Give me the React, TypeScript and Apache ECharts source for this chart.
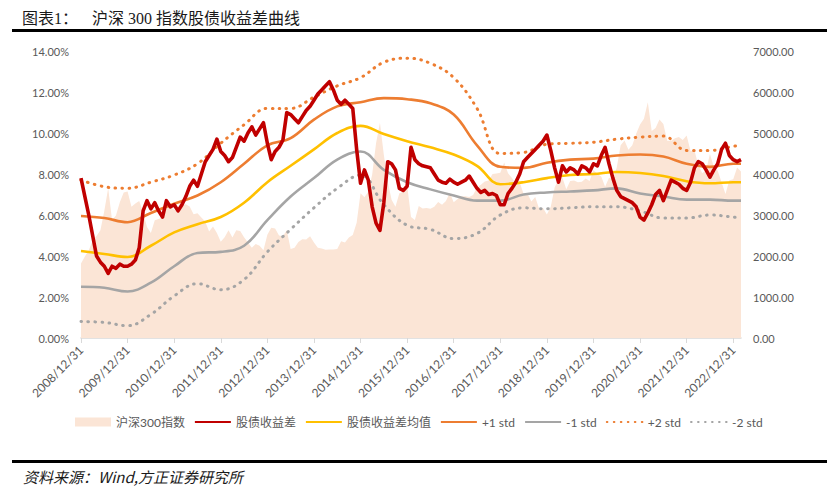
import { useEffect, useRef } from "react";
import * as echarts from "echarts";

// x = months since 2008/12
const yearEndMonths = [0, 12, 24, 36, 48, 60, 72, 84, 96, 108, 120, 132, 144, 156, 168];
const yearEndLabels = [
  "2008/12/31", "2009/12/31", "2010/12/31", "2011/12/31", "2012/12/31",
  "2013/12/31", "2014/12/31", "2015/12/31", "2016/12/31", "2017/12/31",
  "2018/12/31", "2019/12/31", "2020/12/31", "2021/12/31", "2022/12/31",
];
const leftTicks = [0, 2, 4, 6, 8, 10, 12, 14];

// 沪深300指数, monthly from 2008/12 to 2023/02
const indexValues = [
  1817,
  1990, 2140, 2370, 2490, 2630, 3100, 3650, 2880, 2990, 3310, 3550, 3575,
  3200, 3280, 3340, 3070, 2710, 2560, 2870, 2900, 2940, 3400, 3200, 3130,
  3080, 3240, 3260, 3210, 3020, 3040, 2940, 2840, 2600, 2720, 2560, 2350,
  2460, 2630, 2450, 2630, 2610, 2460, 2330, 2200, 2290, 2250, 2140, 2520,
  2690, 2670, 2500, 2480, 2630, 2170, 2200, 2340, 2410, 2400, 2480, 2330,
  2200, 2180, 2150, 2160, 2160, 2170, 2360, 2330, 2450, 2510, 2810, 3530,
  3430, 3570, 3990, 4750, 5250, 4470, 3820, 3370, 3200, 3530, 3570, 3730,
  2950, 2880, 3220, 3160, 3170, 3150, 3200, 3320, 3250, 3340, 3540, 3310,
  3390, 3450, 3460, 3440, 3490, 3670, 3740, 3820, 3840, 4000, 4010, 4030,
  4280, 4020, 3900, 3760, 3800, 3510, 3520, 3330, 3440, 3150, 3170, 3010,
  3200, 3670, 3870, 3910, 3630, 3830, 3840, 3800, 3810, 3890, 3830, 4100,
  4000, 3940, 3690, 3910, 3870, 4160, 4700, 4820, 4590, 4700, 4980, 5210,
  5350, 5750, 5050, 5120, 5330, 5220, 4810, 4810, 4870, 4900, 4830, 4940,
  4560, 4580, 4220, 4020, 4090, 4490, 4170, 4080, 3800, 3510, 3850, 3870,
  4160, 4060,
];

// 股债收益差 (%), monthly from 2008/12 to 2023/02
const spreadValues = [
  7.8,
  6.9, 6.0, 5.0, 4.0, 3.7, 3.5, 3.15, 3.5, 3.4, 3.6, 3.5, 3.5,
  3.6, 3.8, 4.4, 6.2, 6.7, 6.3, 6.6, 6.2, 5.9, 6.7, 6.4, 6.5,
  6.2, 6.5, 6.9, 7.4, 7.7, 7.4, 8.0, 8.6, 8.9, 9.2, 9.7, 9.1,
  8.9, 8.6, 8.8, 9.3, 9.8, 9.6, 10.0, 10.3, 9.9, 10.2, 10.5, 9.5,
  8.7, 9.1, 9.3, 9.65, 11.0, 10.9, 10.7, 10.5, 10.8, 11.1, 11.3, 11.6,
  11.9, 12.1, 12.3, 12.5, 12.1, 11.6, 11.4, 11.6, 11.4, 11.2, 9.2, 7.55,
  8.2, 7.7, 6.4, 5.6, 5.25, 6.6, 8.6, 8.5, 8.2, 7.3, 7.2, 7.4,
  9.3, 8.7, 8.5, 8.4, 8.35, 8.3, 8.0, 7.7, 7.6, 7.55, 7.75, 7.6,
  7.5, 7.6, 7.7, 7.9, 7.6, 7.3, 7.1, 7.2, 7.0, 7.05, 6.95, 6.5,
  6.5, 7.05, 7.3, 7.6, 8.0, 8.6, 8.8, 9.0, 9.2, 9.4, 9.6, 9.9,
  9.15, 8.3, 7.6, 8.4, 8.1, 8.3, 8.2, 8.0, 8.4, 8.3, 8.1, 8.5,
  8.4, 8.9, 9.3, 8.5, 7.8, 7.2, 6.9, 6.8, 6.7, 6.6, 6.4, 5.9,
  5.75, 6.1, 6.5, 7.0, 7.2, 6.7, 7.2, 7.7, 7.6, 7.5, 7.3, 7.2,
  7.6, 8.3, 8.6, 8.5, 8.2, 7.85, 8.2, 8.5, 9.2, 9.5, 8.9, 8.7,
  8.6, 8.7,
];

// smoothed bands, read every 6 months
const bandMonths = [0, 6, 12, 18, 24, 30, 36, 42, 48, 54, 60, 66, 72, 78, 84, 90, 96, 102, 108, 114, 120, 126, 132, 138, 144, 150, 156, 162, 168, 170];
const meanValues = [4.24, 4.1, 3.95, 4.5, 5.15, 5.55, 5.9, 6.6, 7.6, 8.4, 9.2, 10.0, 10.35, 9.95, 9.6, 9.3, 8.95, 8.4, 7.5, 7.6, 7.8, 7.95, 8.0, 8.1, 8.05, 7.9, 7.65, 7.55, 7.6, 7.6];
const plus1Values = [5.95, 5.85, 5.65, 6.1, 6.55, 6.95, 7.6, 8.5, 9.4, 9.75, 10.65, 11.3, 11.5, 11.7, 11.65, 11.45, 10.9, 9.4, 8.35, 8.3, 8.55, 8.7, 8.75, 8.9, 8.95, 8.85, 8.5, 8.35, 8.5, 8.5];
const minus1Values = [2.5, 2.45, 2.27, 2.7, 3.5, 4.15, 4.2, 4.5, 5.75, 6.9, 7.8, 8.7, 9.1, 8.2, 7.6, 7.25, 6.95, 6.7, 6.7, 7.0, 7.1, 7.15, 7.2, 7.3, 7.05, 6.9, 6.75, 6.75, 6.7, 6.7];
const plus2Values = [7.7, 7.38, 7.3, 7.6, 7.95, 8.5, 9.5, 10.4, 11.2, 11.2, 11.75, 12.3, 12.7, 13.45, 13.65, 13.4, 12.7, 11.2, 9.0, 9.05, 9.45, 9.5, 9.55, 9.7, 9.8, 9.85, 9.15, 9.15, 9.35, 9.4];
const minus2Values = [0.8, 0.76, 0.6, 1.15, 2.05, 2.65, 2.35, 2.85, 4.2, 5.3, 6.35, 7.3, 7.95, 6.5, 5.5, 5.3, 4.85, 5.1, 6.0, 6.35, 6.3, 6.35, 6.4, 6.4, 6.2, 5.85, 5.85, 6.0, 5.9, 5.85];

const FONT = "Lato, 'Noto Sans CJK SC', sans-serif";
const GREY_TEXT = "#595959";

const monthly = (vals: number[]) => vals.map((v, i) => [i, v]);
const banded = (vals: number[]) => vals.map((v, i) => [bandMonths[i], v]);

export default function App() {
  const ref = useRef<HTMLDivElement>(null);
  useEffect(() => {
    document.body.style.margin = "0";
    const chart = echarts.init(ref.current!, null, { renderer: "svg" });
    const bandLine = (name: string, vals: number[], color: string, dotted: boolean) => ({
      name,
      type: "line",
      data: banded(vals),
      smooth: 0.4,
      symbol: "none",
      showSymbol: false,
      z: 2,
      lineStyle: dotted
        ? { color, width: 3, type: [0.6, 6.4], cap: "round" }
        : { color, width: 2.6 },
      itemStyle: { color },
    });
    chart.setOption({
      animation: false,
      backgroundColor: "#ffffff",
      grid: { left: 81, top: 51, width: 660, height: 287, containLabel: false },
      legend: {
        left: 70,
        top: 411,
        itemWidth: 36,
        itemHeight: 9,
        itemGap: 9,
        itemStyle: { opacity: 0 },
        textStyle: { color: GREY_TEXT, fontSize: 12, fontFamily: FONT },
        data: [
          { name: "沪深300指数", icon: "rect", itemStyle: { color: "#FBE5D6", opacity: 1 } },
          "股债收益差",
          "股债收益差均值",
          "+1 std",
          "-1 std",
          "+2 std",
          "-2 std",
        ],
      },
      xAxis: {
        type: "value",
        min: 0,
        max: 170,
        interval: 12,
        splitLine: { show: false },
        axisLine: { show: true, lineStyle: { color: "#D9D9D9", width: 1.5 } },
        axisTick: {
          show: true,
          length: 5,
          customValues: yearEndMonths,
          lineStyle: { color: "#D9D9D9", width: 1 },
        },
        axisLabel: {
          customValues: yearEndMonths,
          rotate: 45,
          margin: 10,
          color: GREY_TEXT,
          fontSize: 12,
          fontFamily: FONT,
          formatter: (v: number) => {
            const i = yearEndMonths.indexOf(v);
            return i >= 0 ? yearEndLabels[i] : "";
          },
        },
      },
      yAxis: [
        {
          type: "value",
          min: 0,
          max: 14,
          interval: 2,
          splitLine: { show: false },
          axisLine: { show: false },
          axisTick: { show: false },
          axisLabel: {
            margin: 12,
            color: GREY_TEXT,
            fontSize: 11,
            fontFamily: FONT,
            formatter: (v: number) => (leftTicks.includes(v) ? v.toFixed(2) + "%" : ""),
          },
        },
        {
          type: "value",
          min: 0,
          max: 7000,
          interval: 1000,
          position: "right",
          splitLine: { show: false },
          axisLine: { show: false },
          axisTick: { show: false },
          axisLabel: {
            margin: 12,
            color: GREY_TEXT,
            fontSize: 11,
            fontFamily: FONT,
            formatter: (v: number) => v.toFixed(2),
          },
        },
      ],
      series: [
        {
          name: "沪深300指数",
          type: "line",
          yAxisIndex: 1,
          data: monthly(indexValues),
          symbol: "none",
          showSymbol: false,
          z: 1,
          lineStyle: { width: 0, color: "#FBE5D6" },
          itemStyle: { color: "#FBE5D6" },
          areaStyle: { color: "#FBE5D6", opacity: 1 },
        },
        {
          name: "股债收益差",
          type: "line",
          data: monthly(spreadValues),
          symbol: "none",
          showSymbol: false,
          z: 4,
          lineStyle: { color: "#C00000", width: 3.6, join: "round" },
          itemStyle: { color: "#C00000" },
        },
        bandLine("股债收益差均值", meanValues, "#FFC000", false),
        bandLine("+1 std", plus1Values, "#ED7D31", false),
        bandLine("-1 std", minus1Values, "#A5A5A5", false),
        bandLine("+2 std", plus2Values, "#ED7D31", true),
        bandLine("-2 std", minus2Values, "#A5A5A5", true),
      ],
      graphic: [
        {
          type: "text",
          left: 22,
          top: 10,
          style: {
            text: "图表1：",
            fill: "#1a1a1a",
            font: "16px 'Liberation Serif', 'Noto Sans CJK SC', serif",
          },
        },
        {
          type: "text",
          left: 92,
          top: 10,
          style: {
            text: "沪深 300 指数股债收益差曲线",
            fill: "#1a1a1a",
            font: "16px 'Liberation Serif', 'Noto Sans CJK SC', serif",
          },
        },
        { type: "rect", shape: { x: 12, y: 29, width: 815, height: 3 }, style: { fill: "#000000" } },
        { type: "rect", shape: { x: 12, y: 460, width: 815, height: 3 }, style: { fill: "#000000" } },
        {
          type: "text",
          left: 23,
          top: 469,
          style: {
            text: "资料来源：Wind,方正证券研究所",
            fill: "#1a1a1a",
            font: "italic 15px 'Noto Sans CJK SC', 'DejaVu Sans Mono', sans-serif",
          },
        },
      ],
    });
    return () => chart.dispose();
  }, []);
  return <div ref={ref} style={{ width: 837, height: 495 }} />;
}
